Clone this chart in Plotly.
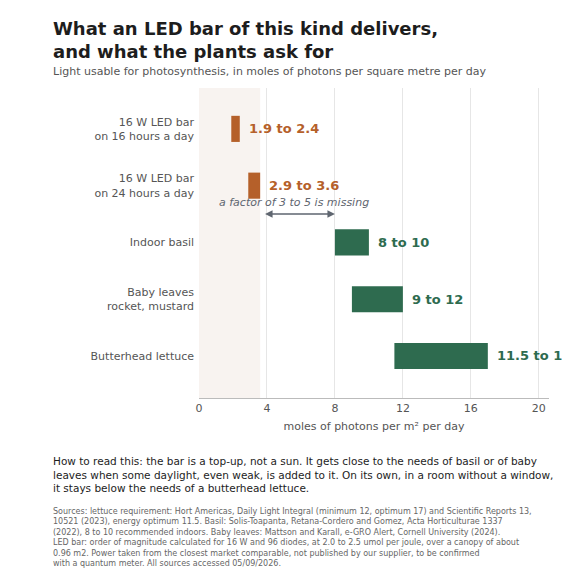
import plotly.graph_objects as go

categories = ["16 W LED bar<br>on 16 hours a day", "16 W LED bar<br>on 24 hours a day",
              "Indoor basil", "Baby leaves<br>rocket, mustard", "Butterhead lettuce"]
low = [1.9, 2.9, 8, 9, 11.5]
high = [2.4, 3.6, 10, 12, 17]
labels = ["1.9 to 2.4", "2.9 to 3.6", "8 to 10", "9 to 12", "11.5 to 17"]
colors = ["#b5602a", "#b5602a", "#2e6b4f", "#2e6b4f", "#2e6b4f"]
ticks = [0, 4, 8, 12, 16, 20]
band = [0, 3.6]
gap = [3.8, 8]

F = "DejaVu Sans"
idx = list(range(len(categories)))
fig = go.Figure()
fig.add_vrect(x0=band[0], x1=band[1], fillcolor="#f8f3f0", line_width=0, layer="below")
fig.add_trace(go.Bar(y=idx, x=[h - l for l, h in zip(low, high)], base=low, orientation="h",
                     marker=dict(color=colors, line_width=0), width=0.46, hoverinfo="skip"))
for i, (h, t, c) in enumerate(zip(high, labels, colors)):
    fig.add_annotation(x=h, y=i, text=f"<b>{t}</b>", showarrow=False, xanchor="left",
                       xshift=7, font=dict(family=F, size=13, color=c))
fig.add_annotation(x=gap[1], y=1.5, ax=gap[0], ay=1.5, axref="x", ayref="y", text="",
                   showarrow=True, arrowhead=2, arrowside="end+start", arrowsize=1,
                   arrowwidth=1.5, arrowcolor="#5f6670")
fig.add_annotation(x=(gap[0] + gap[1]) / 2 - 0.3, y=1.29, text="<i>a factor of 3 to 5 is missing</i>",
                   showarrow=False, font=dict(family=F, size=11, color="#5f6670"))

fig.update_layout(
    width=570, height=570, margin=dict(l=191, r=29, t=80, b=180, autoexpand=False),
    plot_bgcolor="white", paper_bgcolor="white", showlegend=False,
    font=dict(family=F, color="#555"),
    xaxis=dict(range=[0, 20.6], tickvals=ticks, showgrid=True, gridcolor="#e6e6e6",
               zeroline=False, showline=True, linecolor="#bbb", ticks="",
               tickfont=dict(size=11, color="#555"),
               title=dict(text="moles of photons per m² per day", standoff=8,
                          font=dict(size=11, color="#555"))),
    yaxis=dict(range=[4.74, -0.72], tickvals=idx, ticktext=categories, showgrid=False,
               zeroline=False, tickfont=dict(size=11, color="#555"), ticks="", ticklabelstandoff=4),
)
X0 = -148 / 350
fig.add_annotation(xref="paper", yref="paper", x=X0, y=1 + 24/310, xanchor="left", yanchor="bottom",
                   align="left", showarrow=False,
                   text="<b>What an LED bar of this kind delivers,<br>and what the plants ask for</b>",
                   font=dict(family=F, size=18, color="#1d1d1d"))
fig.add_annotation(xref="paper", yref="paper", x=X0, y=1 + 8/310, xanchor="left", yanchor="bottom",
                   align="left", showarrow=False,
                   text="Light usable for photosynthesis, in moles of photons per square metre per day",
                   font=dict(family=F, size=11, color="#555"))
fig.add_annotation(xref="paper", yref="paper", x=X0, y=-55/310, xanchor="left", yanchor="top",
                   align="left", showarrow=False,
                   text=("How to read this: the bar is a top-up, not a sun. It gets close to the needs of basil or of baby<br>"
                         "leaves when some daylight, even weak, is added to it. On its own, in a room without a window,<br>"
                         "it stays below the needs of a butterhead lettuce."),
                   font=dict(family=F, size=10.5, color="#1d1d1d"))
fig.add_annotation(xref="paper", yref="paper", x=X0, y=-107/310, xanchor="left", yanchor="top",
                   align="left", showarrow=False,
                   text=("Sources: lettuce requirement: Hort Americas, Daily Light Integral (minimum 12, optimum 17) and Scientific Reports 13,<br>"
                         "10521 (2023), energy optimum 11.5. Basil: Solis-Toapanta, Retana-Cordero and Gomez, Acta Horticulturae 1337<br>"
                         "(2022), 8 to 10 recommended indoors. Baby leaves: Mattson and Karall, e-GRO Alert, Cornell University (2024).<br>"
                         "LED bar: order of magnitude calculated for 16 W and 96 diodes, at 2.0 to 2.5 umol per joule, over a canopy of about<br>"
                         "0.96 m2. Power taken from the closest market comparable, not published by our supplier, to be confirmed<br>"
                         "with a quantum meter. All sources accessed 05/09/2026."),
                   font=dict(family=F, size=8, color="#666"))
fig.write_html("out.html")
